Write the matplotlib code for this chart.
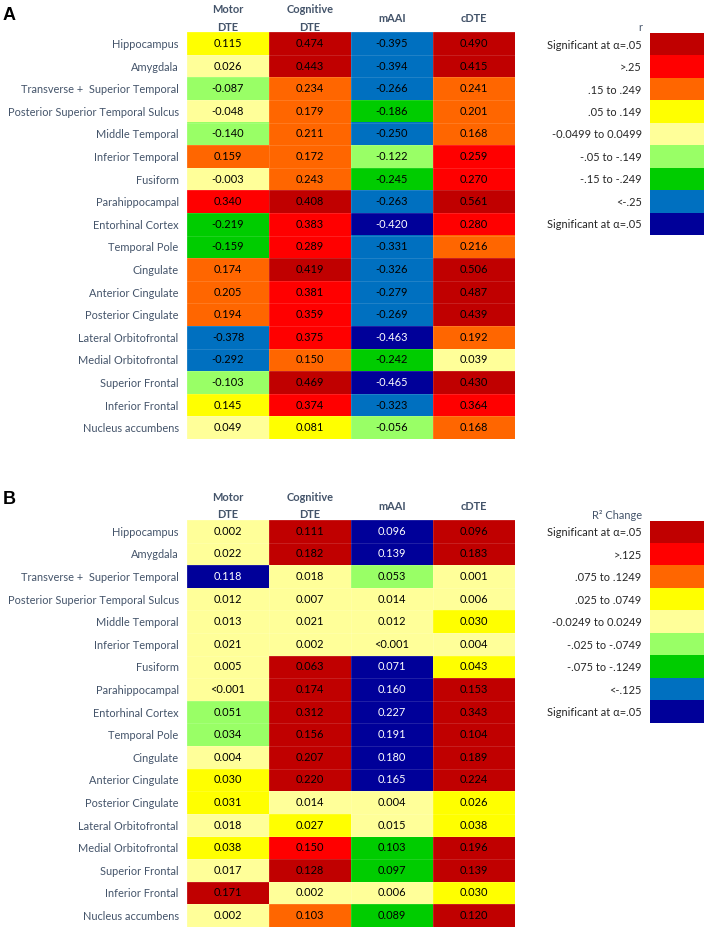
import numpy as np
import matplotlib
matplotlib.use('Agg')
import matplotlib.pyplot as plt
from matplotlib.colors import ListedColormap

plt.rcParams['font.family'] = ['Lato', 'DejaVu Sans']

regions = ['Hippocampus', 'Amygdala', 'Transverse +  Superior Temporal',
           'Posterior Superior Temporal Sulcus', 'Middle Temporal', 'Inferior Temporal',
           'Fusiform', 'Parahippocampal', 'Entorhinal Cortex', 'Temporal Pole',
           'Cingulate', 'Anterior Cingulate', 'Posterior Cingulate',
           'Lateral Orbitofrontal', 'Medial Orbitofrontal', 'Superior Frontal',
           'Inferior Frontal', 'Nucleus accumbens']
columns = ['Motor\nDTE', 'Cognitive\nDTE', 'mAAI', 'cDTE']

# panel A: correlations (r)
r_values = [
    ['0.115', '0.474', '-0.395', '0.490'],
    ['0.026', '0.443', '-0.394', '0.415'],
    ['-0.087', '0.234', '-0.266', '0.241'],
    ['-0.048', '0.179', '-0.186', '0.201'],
    ['-0.140', '0.211', '-0.250', '0.168'],
    ['0.159', '0.172', '-0.122', '0.259'],
    ['-0.003', '0.243', '-0.245', '0.270'],
    ['0.340', '0.408', '-0.263', '0.561'],
    ['-0.219', '0.383', '-0.420', '0.280'],
    ['-0.159', '0.289', '-0.331', '0.216'],
    ['0.174', '0.419', '-0.326', '0.506'],
    ['0.205', '0.381', '-0.279', '0.487'],
    ['0.194', '0.359', '-0.269', '0.439'],
    ['-0.378', '0.375', '-0.463', '0.192'],
    ['-0.292', '0.150', '-0.242', '0.039'],
    ['-0.103', '0.469', '-0.465', '0.430'],
    ['0.145', '0.374', '-0.323', '0.364'],
    ['0.049', '0.081', '-0.056', '0.168'],
]
# colour class of each cell (index into legend)
r_classes = [
    [3, 0, 7, 0], [4, 0, 7, 0], [5, 2, 7, 2], [4, 2, 6, 2], [5, 2, 7, 2],
    [2, 2, 5, 1], [4, 2, 6, 1], [1, 0, 7, 0], [6, 1, 8, 1], [6, 1, 7, 2],
    [2, 0, 7, 0], [2, 1, 7, 0], [2, 1, 7, 0], [7, 1, 8, 2], [7, 2, 6, 4],
    [5, 0, 8, 0], [3, 1, 7, 1], [4, 3, 5, 2],
]

# panel B: R2 change
r2_values = [
    ['0.002', '0.111', '0.096', '0.096'],
    ['0.022', '0.182', '0.139', '0.183'],
    ['0.118', '0.018', '0.053', '0.001'],
    ['0.012', '0.007', '0.014', '0.006'],
    ['0.013', '0.021', '0.012', '0.030'],
    ['0.021', '0.002', '<0.001', '0.004'],
    ['0.005', '0.063', '0.071', '0.043'],
    ['<0.001', '0.174', '0.160', '0.153'],
    ['0.051', '0.312', '0.227', '0.343'],
    ['0.034', '0.156', '0.191', '0.104'],
    ['0.004', '0.207', '0.180', '0.189'],
    ['0.030', '0.220', '0.165', '0.224'],
    ['0.031', '0.014', '0.004', '0.026'],
    ['0.018', '0.027', '0.015', '0.038'],
    ['0.038', '0.150', '0.103', '0.196'],
    ['0.017', '0.128', '0.097', '0.139'],
    ['0.171', '0.002', '0.006', '0.030'],
    ['0.002', '0.103', '0.089', '0.120'],
]
r2_classes = [
    [4, 0, 8, 0], [4, 0, 8, 0], [8, 4, 5, 4], [4, 4, 4, 4], [4, 4, 4, 3],
    [4, 4, 4, 4], [4, 0, 8, 3], [4, 0, 8, 0], [5, 0, 8, 0], [5, 0, 8, 0],
    [4, 0, 8, 0], [3, 0, 8, 0], [3, 4, 4, 3], [4, 3, 4, 3], [3, 1, 6, 0],
    [4, 0, 6, 0], [0, 4, 4, 3], [4, 2, 6, 0],
]

r_legend = ['Significant at α=.05', '>.25', '.15 to .249', '.05 to .149',
            '-0.0499 to 0.0499', '-.05 to -.149', '-.15 to -.249', '<-.25',
            'Significant at α=.05']
r2_legend = ['Significant at α=.05', '>.125', '.075 to .1249', '.025 to .0749',
             '-0.0249 to 0.0249', '-.025 to -.0749', '-.075 to -.1249', '<-.125',
             'Significant at α=.05']

class_colors = ['#C00000', '#FF0000', '#FF6600', '#FFFF00', '#FFFF99',
                '#99FF66', '#00CC00', '#0070C0', '#000099']
cmap = ListedColormap(class_colors)

W, H = 704, 927
FS = 7.9
fig = plt.figure(figsize=(W / 100, H / 100), dpi=100)


def px_axes(x0, y0, x1, y1):
    return fig.add_axes([x0 / W, 1 - y1 / H, (x1 - x0) / W, (y1 - y0) / H])


def draw_table(ax, values, classes):
    cls = np.array(classes)
    ax.imshow(cls, cmap=cmap, vmin=-0.5, vmax=8.5, aspect='auto', interpolation='nearest')
    for i, row in enumerate(values):
        for j, s in enumerate(row):
            col = 'white' if cls[i, j] == 8 else 'black'
            ax.text(j, i, s, ha='center', va='center', fontsize=FS, color=col)
    ax.set_xticks(np.arange(cls.shape[1] + 1) - 0.5, minor=True)
    ax.set_yticks(np.arange(cls.shape[0] + 1) - 0.5, minor=True)
    ax.grid(which='minor', color='white', alpha=0.15, lw=0.6)
    ax.set_yticks(range(len(regions)), regions, fontsize=FS, color='#44546A')
    ax.set_xticks(range(len(columns)), columns, fontsize=FS, fontweight='bold',
                  color='#44546A', linespacing=1.7)
    ax.xaxis.tick_top()
    for lab in ax.get_xticklabels():
        lab.set_va('center')
    ax.tick_params(which='both', length=0)
    ax.tick_params(axis='x', pad=10)
    ax.tick_params(axis='y', pad=6)
    for sp in ax.spines.values():
        sp.set_visible(False)


def draw_legend(ax, labels, title):
    n = len(labels)
    ax.imshow(np.arange(n).reshape(-1, 1), cmap=cmap, vmin=-0.5, vmax=8.5,
              aspect='auto', interpolation='nearest')
    ax.set_yticks(range(n), labels, fontsize=FS, color='#262626')
    ax.set_xticks([])
    ax.tick_params(length=0, pad=6)
    ax.text(-8 / 54, 1.0, title, transform=ax.transAxes, ha='right', va='bottom',
            fontsize=FS, color='#44546A')
    for sp in ax.spines.values():
        sp.set_visible(False)


ax_a = px_axes(187, 32.3, 515, 439)
draw_table(ax_a, r_values, r_classes)
leg_a = px_axes(650, 33, 704, 235)
draw_legend(leg_a, r_legend, 'r')

ax_b = px_axes(187, 520, 515, 926.7)
draw_table(ax_b, r2_values, r2_classes)
leg_b = px_axes(650, 520.7, 704, 722.7)
draw_legend(leg_b, r2_legend, 'R² Change')

fig.text(3 / W, 1 - 15 / H, 'A', fontsize=13, fontweight='bold',
         family='Liberation Sans', va='center')
fig.text(3 / W, 1 - 500 / H, 'B', fontsize=13, fontweight='bold',
         family='Liberation Sans', va='center')

fig.savefig('out.png', dpi=100)
